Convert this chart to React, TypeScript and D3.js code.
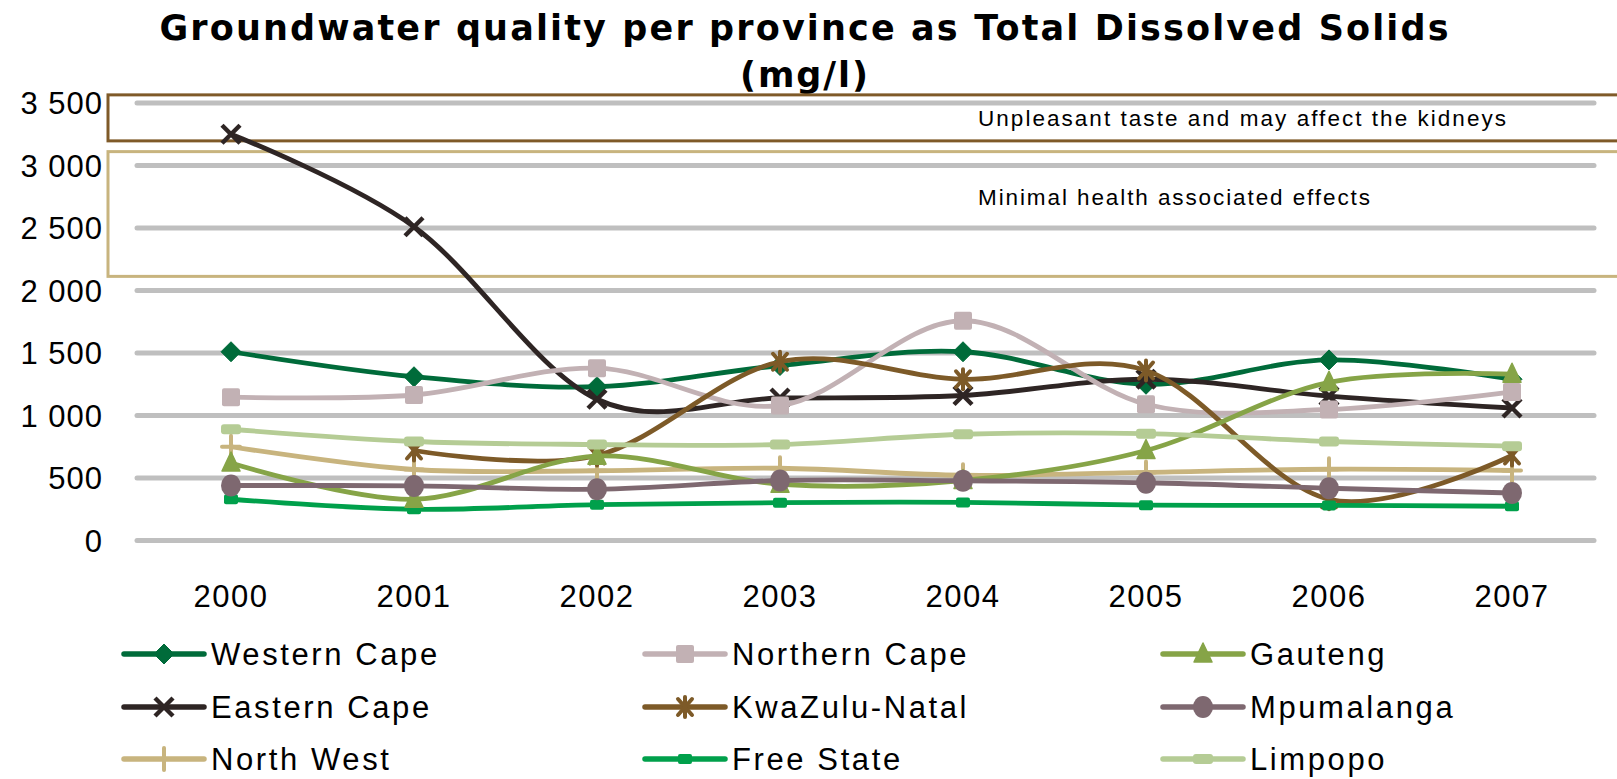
import React from "react";
import * as d3 from "d3";

const years = ["2000", "2001", "2002", "2003", "2004", "2005", "2006", "2007"];
const yTicks = [0, 500, 1000, 1500, 2000, 2500, 3000, 3500];

const westernCape = [1510, 1310, 1230, 1400, 1510, 1250, 1445, 1290];
const northernCape = [1147, 1164, 1379, 1080, 1758, 1090, 1048, 1189];
const gauteng = [620, 330, 675, 450, 480, 720, 1265, 1330];
const easternCape = [3250, 2510, 1130, 1140, 1160, 1290, 1155, 1060];
const kwaZuluNatal = [null, 720, 680, 1430, 1290, 1360, 330, 680];
const mpumalanga = [440, 437, 410, 480, 478, 462, 418, 380];
const northWest = [750, 568, 558, 578, 522, 545, 570, 560];
const freeState = [330, 250, 287, 303, 305, 283, 281, 274];
const limpopo = [890, 792, 768, 768, 850, 855, 792, 755];

const seriesNames = ["Western Cape", "Northern Cape", "Gauteng", "Eastern Cape", "KwaZulu-Natal", "Mpumalanga", "North West", "Free State", "Limpopo"];
const seriesValues = [westernCape, northernCape, gauteng, easternCape, kwaZuluNatal, mpumalanga, northWest, freeState, limpopo];
const seriesColors = ["#006b3a", "#c2b1b4", "#86a447", "#2e2524", "#7d5a28", "#7e6870", "#c8b47e", "#00a04b", "#b5cc95"];
const seriesMarkers = ["diamond", "square", "triangle", "x", "asterisk", "circle", "plus", "smallrect", "dash"];
const drawOrder = [0, 3, 6, 1, 4, 7, 2, 5, 8];

const bands = [
  { label: "Unpleasant taste and may affect the kidneys", lo: 3197, hi: 3565, color: "#7f5a28" },
  { label: "Minimal health associated effects", lo: 2113, hi: 3111, color: "#c8b47e" },
];

const W = 1617;
const H = 779;
const FONT = "'Liberation Sans', Arial, sans-serif";
const TITLE_FONT = "'DejaVu Sans', 'Liberation Sans', sans-serif";

function Marker({ type, x, y, color }: { type: string; x: number; y: number; color: string }) {
  switch (type) {
    case "diamond":
      return <polygon points={`${x},${y - 10} ${x + 10},${y} ${x},${y + 10} ${x - 10},${y}`} fill={color} stroke={color} strokeWidth={1} strokeLinejoin="round" />;
    case "square":
      return <rect x={x - 9} y={y - 9} width={18} height={18} rx={2} fill={color} />;
    case "triangle":
      return <polygon points={`${x},${y - 11} ${x + 9},${y + 8} ${x - 9},${y + 8}`} fill={color} stroke={color} strokeWidth={1.5} strokeLinejoin="round" />;
    case "x":
      return (
        <g stroke={color} strokeWidth={4.5} strokeLinecap="butt">
          <line x1={x - 9} y1={y - 9} x2={x + 9} y2={y + 9} />
          <line x1={x - 9} y1={y + 9} x2={x + 9} y2={y - 9} />
        </g>
      );
    case "asterisk":
      return (
        <g stroke={color} strokeWidth={4} strokeLinecap="round">
          <line x1={x - 7} y1={y - 8} x2={x + 7} y2={y + 8} />
          <line x1={x - 7} y1={y + 8} x2={x + 7} y2={y - 8} />
          <line x1={x} y1={y - 10} x2={x} y2={y + 10} />
        </g>
      );
    case "circle":
      return <ellipse cx={x} cy={y} rx={10} ry={11} fill={color} />;
    case "plus":
      return (
        <g stroke={color} strokeWidth={4} strokeLinecap="round">
          <line x1={x} y1={y - 11} x2={x} y2={y + 11} />
          <line x1={x - 9} y1={y} x2={x + 9} y2={y} />
        </g>
      );
    case "smallrect":
      return <rect x={x - 7} y={y - 5} width={14} height={10} rx={2} fill={color} />;
    case "dash":
      return <rect x={x - 10} y={y - 5} width={20} height={10} rx={3} fill={color} />;
    default:
      return null;
  }
}

export default function App() {
  const x = d3.scalePoint<string>().domain(years).range([231, 1512]);
  const y = d3.scaleLinear().domain([0, 3500]).range([540.5, 103]);

  const line = d3
    .line<number | null>()
    .defined((d) => d !== null)
    .x((_, i) => x(years[i]) as number)
    .y((d) => y(d as number))
    .curve(d3.curveCatmullRom.alpha(0));

  const legendCols = [124, 645, 1163];
  const legendRows = [654, 707, 759];

  return (
    <svg width={W} height={H} style={{ position: "absolute", left: 0, top: 0, background: "#fff" }} fontFamily={FONT}>
      <rect width={W} height={H} fill="#fff" />
      {/* title */}
      <text x={804} y={40} textAnchor="middle" fontFamily={TITLE_FONT} fontSize={35} fontWeight="bold" textLength={1289} lengthAdjust="spacing">
        Groundwater quality per province as Total Dissolved Solids
      </text>
      <text x={804} y={87} textAnchor="middle" fontFamily={TITLE_FONT} fontSize={35} fontWeight="bold" textLength={128} lengthAdjust="spacing">
        (mg/l)
      </text>

      {/* gridlines */}
      {yTicks.map((t) => (
        <line key={t} x1={137} x2={1594} y1={y(t)} y2={y(t)} stroke="#bfbfbf" strokeWidth={5} strokeLinecap="round" />
      ))}
      {/* y labels */}
      {yTicks.map((t) => (
        <text key={t} x={103} y={y(t)} dy="0.36em" textAnchor="end" fontSize={31} letterSpacing={1}>
          {d3.format(",")(t).replace(",", " ")}
        </text>
      ))}

      {/* bands */}
      {bands.map((b) => (
        <g key={b.label}>
          <rect x={108} y={y(b.hi)} width={W} height={y(b.lo) - y(b.hi)} fill="none" stroke={b.color} strokeWidth={3} />
        </g>
      ))}
      <text x={978} y={(y(bands[0].hi) + y(bands[0].lo)) / 2} dy="0.36em" fontSize={22.5} textLength={528} lengthAdjust="spacing">
        {bands[0].label}
      </text>
      <text x={978} y={197} dy="0.36em" fontSize={22.5} textLength={392} lengthAdjust="spacing">
        {bands[1].label}
      </text>

      {/* x labels */}
      {years.map((yr) => (
        <text key={yr} x={x(yr)} y={596} dy="0.36em" textAnchor="middle" fontSize={31} letterSpacing={1.5}>
          {yr}
        </text>
      ))}

      {/* series */}
      {drawOrder.map((si) => (
        <g key={seriesNames[si]}>
          <path d={line(seriesValues[si]) || ""} fill="none" stroke={seriesColors[si]} strokeWidth={4.8} strokeLinecap="round" />
          {seriesValues[si].map((v, i) =>
            v === null ? null : <Marker key={i} type={seriesMarkers[si]} x={x(years[i]) as number} y={y(v)} color={seriesColors[si]} />
          )}
        </g>
      ))}

      {/* legend */}
      {seriesNames.map((name, i) => {
        const col = i % 3;
        const row = Math.floor(i / 3);
        const lx = legendCols[col];
        const ly = legendRows[row];
        return (
          <g key={name}>
            <line x1={lx} x2={lx + 80} y1={ly} y2={ly} stroke={seriesColors[i]} strokeWidth={5.5} strokeLinecap="round" />
            <Marker type={seriesMarkers[i]} x={lx + 40} y={ly} color={seriesColors[i]} />
            <text x={lx + 87} y={ly} dy="0.36em" fontSize={31} letterSpacing={2.6}>
              {name}
            </text>
          </g>
        );
      })}
    </svg>
  );
}
